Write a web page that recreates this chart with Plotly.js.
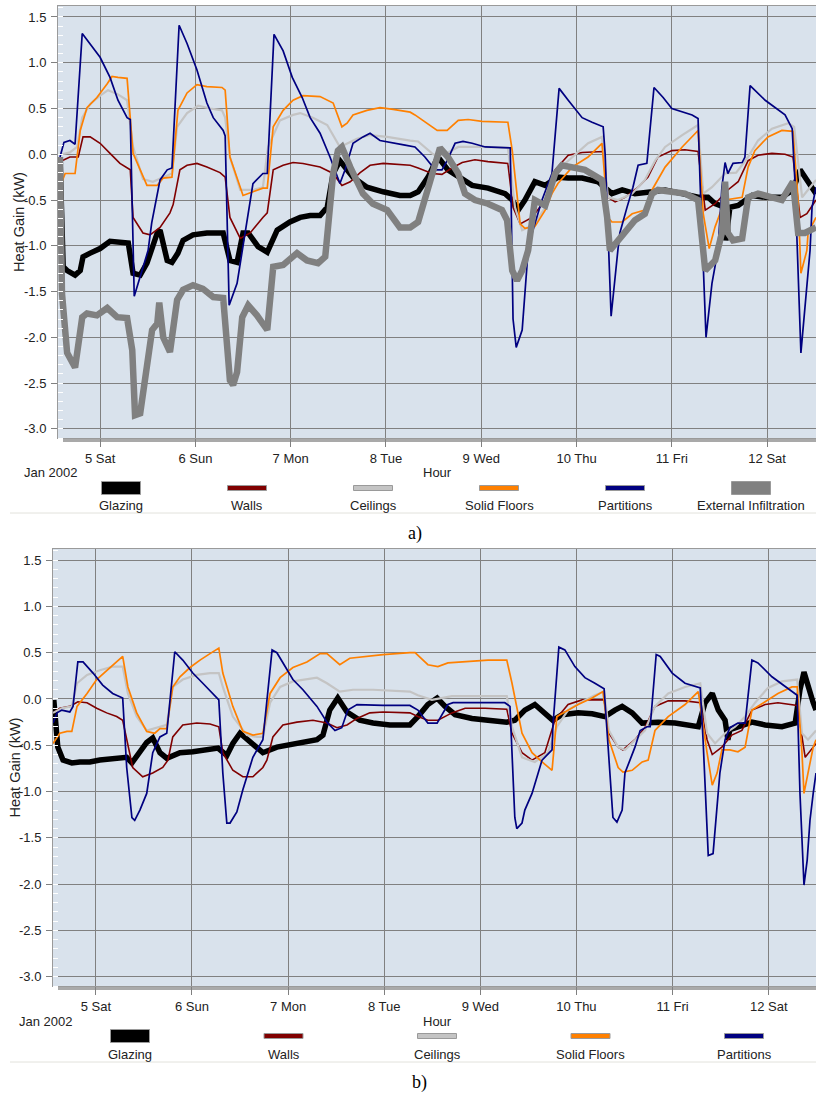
<!DOCTYPE html>
<html>
<head>
<meta charset="utf-8">
<script src="https://cdn.plot.ly/plotly-3.0.1.min.js"></script>
<style>html,body{margin:0;padding:0;background:#fff;}#chart{width:816px;height:1093px;}</style>
</head>
<body>
<div id="chart"></div>
<script>
// ---------- categories / labels ----------
const seriesNames = ['Glazing','Walls','Ceilings','Solid Floors','Partitions','External Infiltration'];
const dayTickHours = [0,24,48,72,96,120,144,168];
const dayTickLabels = ['5 Sat','6 Sun','7 Mon','8 Tue','9 Wed','10 Thu','11 Fri','12 Sat'];
const yTickValues = [-3,-2.5,-2,-1.5,-1,-0.5,0,0.5,1,1.5];
const yTickLabels = ['-3.0','-2.5','-2.0','-1.5','-1.0','-0.5','0.0','0.5','1.0','1.5'];

// ---------- panel a) : hours from 5 Jan 2002 00:00, heat gain kW ----------
const aGlazingH = [-10.1,-9.3,-8.3,-6.3,-5.0,-4.3,-2.5,0,2.5,5.0,7.1,8.3,10.1,11.8,14.4,15.1,16.9,18.1,19.6,20.9,23.4,26.9,31.0,32.7,34.5,36.0,37.3,39.8,42.1,44.6,47.8,50.4,52.9,55.4,57.2,58.7,60.4,63.7,67.2,71.3,75.5,78.1,80.1,82.6,85.1,87.6,90.2,93.7,97.7,102.0,103.8,105.3,107.0,109.5,112.1,115.3,117.9,121.4,125.4,127.2,128.9,131.5,134.7,139.0,142.3,146.6,150.6,153.1,154.9,157.4,157.6,158.6,160.7,164.2,167.5,171.7,174.5,176.3,177.5,179.3,180.3];
const aGlazingKW = [-0.03,-1.23,-1.27,-1.32,-1.27,-1.12,-1.08,-1.03,-0.95,-0.96,-0.97,-1.30,-1.32,-1.19,-0.86,-0.83,-1.16,-1.18,-1.08,-0.94,-0.88,-0.86,-0.86,-1.16,-1.18,-0.86,-0.86,-1.01,-1.07,-0.83,-0.74,-0.69,-0.67,-0.67,-0.58,-0.21,-0.07,-0.25,-0.36,-0.41,-0.45,-0.45,-0.41,-0.25,-0.03,-0.17,-0.25,-0.34,-0.37,-0.43,-0.50,-0.61,-0.50,-0.30,-0.34,-0.25,-0.26,-0.26,-0.30,-0.36,-0.43,-0.39,-0.43,-0.41,-0.39,-0.43,-0.47,-0.47,-0.54,-0.58,-0.94,-0.58,-0.56,-0.45,-0.47,-0.47,-0.39,-0.17,-0.25,-0.39,-0.43];

const aWallsH = [-9.6,-7.6,-5.5,-4.3,-2.5,0,2.5,5.0,7.6,8.3,10.8,12.6,15.1,17.6,18.4,20.1,21.9,24.4,26.9,30.2,31.5,32.7,35.3,37.8,41.0,42.1,43.6,46.1,48.6,51.1,55.4,58.7,60.9,63.0,65.5,68.0,71.3,78.1,80.1,83.6,86.1,88.6,91.2,94.4,97.7,102.7,104.0,105.8,108.8,112.1,114.6,117.9,121.4,126.7,127.9,129.7,132.2,135.5,138.0,140.5,144.0,147.3,150.6,152.4,154.9,158.1,160.7,163.2,165.7,169.2,172.5,174.5,176.3,178.0,180.3];
const aWallsKW = [-0.07,-0.03,-0.03,0.19,0.19,0.12,0.01,-0.10,-0.17,-0.69,-0.86,-0.88,-0.80,-0.64,-0.55,-0.17,-0.12,-0.10,-0.14,-0.20,-0.25,-0.69,-0.92,-0.86,-0.69,-0.64,-0.17,-0.12,-0.09,-0.10,-0.14,-0.21,-0.34,-0.30,-0.20,-0.12,-0.10,-0.12,-0.15,-0.21,-0.22,-0.15,-0.09,-0.06,-0.08,-0.10,-0.58,-0.76,-0.69,-0.50,-0.17,-0.01,0.02,0.03,-0.47,-0.52,-0.47,-0.36,-0.25,-0.03,0.04,0.05,0.03,-0.61,-0.54,-0.39,-0.30,-0.07,-0.01,0.01,0.00,-0.03,-0.69,-0.65,-0.50];

const aCeilingsH = [-9.6,-7.6,-5.8,-4.5,-2.5,0,2.0,4.3,6.8,8.3,10.8,13.3,15.9,18.1,19.4,21.9,24.7,27.7,30.7,31.5,32.7,35.3,38.5,41.0,42.3,45.3,48.6,50.4,53.6,57.2,60.4,62.2,64.7,68.0,72.3,78.1,80.1,83.6,85.1,87.6,90.2,96.2,102.7,104.5,106.3,109.5,112.1,115.3,118.9,122.9,126.4,127.9,130.4,134.0,137.2,139.8,142.3,146.6,150.6,151.9,154.1,157.4,160.2,163.2,165.7,169.2,173.3,174.8,176.8,180.3];
const aCeilingsKW = [0.00,0.02,0.08,0.40,0.55,0.64,0.70,0.66,0.59,0.08,-0.27,-0.30,-0.25,-0.21,0.30,0.45,0.53,0.50,0.48,0.40,-0.03,-0.39,-0.39,-0.36,0.08,0.37,0.43,0.45,0.40,0.32,0.08,0.12,0.17,0.21,0.19,0.15,0.14,0.01,-0.03,0.02,0.08,0.08,0.07,-0.58,-0.83,-0.76,-0.58,-0.17,-0.03,0.12,0.19,-0.47,-0.50,-0.43,-0.28,-0.07,0.08,0.21,0.32,-0.43,-0.36,-0.21,-0.20,-0.03,0.15,0.28,0.34,0.30,-0.47,-0.28];

const aFloorsH = [-9.6,-8.8,-6.3,-5.0,-3.3,-0.8,1.8,3.0,4.5,6.8,8.3,11.8,14.4,15.9,18.1,19.6,21.9,24.4,26.9,30.7,31.5,32.7,36.0,38.5,41.0,42.1,43.6,46.1,48.6,51.1,55.4,58.7,60.9,62.2,63.7,67.2,70.5,73.8,78.1,79.3,84.9,87.4,90.2,92.7,96.2,102.7,103.8,105.8,107.0,109.5,112.1,113.8,115.3,118.9,122.9,126.4,127.9,128.9,131.5,134.0,137.2,139.0,142.3,146.6,150.6,151.9,153.4,154.9,157.4,161.7,163.2,164.9,168.2,171.7,174.5,175.8,176.5,178.0,178.3,180.3];
const aFloorsKW = [-0.30,-0.21,-0.21,0.26,0.51,0.62,0.77,0.85,0.84,0.83,0.01,-0.34,-0.34,-0.26,-0.25,0.48,0.67,0.76,0.74,0.73,0.70,-0.03,-0.45,-0.41,-0.37,-0.37,0.30,0.48,0.59,0.64,0.63,0.56,0.30,0.34,0.43,0.48,0.51,0.49,0.46,0.43,0.26,0.26,0.37,0.38,0.36,0.35,0.04,-0.76,-0.81,-0.79,-0.61,-0.43,-0.32,-0.14,-0.03,0.12,-0.69,-0.74,-0.74,-0.65,-0.61,-0.39,-0.14,0.08,0.26,-0.65,-1.03,-0.79,-0.50,-0.47,-0.14,0.04,0.19,0.26,0.25,-0.50,-1.30,-1.05,-0.86,-0.69];

const aPartitionsH = [-10.1,-9.1,-7.6,-6.3,-4.5,0,2.5,4.5,6.8,7.6,8.6,12.1,13.0,15.1,16.9,18.1,19.9,21.9,24.4,26.9,28.5,31.0,31.5,32.5,34.5,36.5,38.5,41.0,42.1,43.8,46.1,48.4,50.9,52.9,55.4,57.9,60.4,61.7,63.7,66.2,68.0,70.5,73.8,76.8,79.3,81.8,84.4,86.1,87.4,89.4,91.4,93.7,97.0,103.3,104.0,104.8,106.3,107.8,108.8,111.3,113.8,115.6,117.9,121.4,123.9,126.7,127.2,128.7,130.4,130.9,132.7,134.2,135.5,137.7,139.5,141.8,144.0,146.6,149.1,150.6,151.1,152.6,154.1,155.6,156.6,157.4,158.1,159.4,161.7,162.4,163.7,167.5,170.0,172.5,174.3,175.0,176.5,177.5,178.8,179.3,180.3];
const aPartitionsKW = [-0.03,0.13,0.15,0.11,1.32,1.06,0.84,0.59,0.40,0.38,-1.55,-1.05,-0.75,-0.28,-0.17,-0.15,1.41,1.21,0.92,0.56,0.40,0.26,0.20,-1.65,-1.41,-0.86,-0.32,-0.21,-0.21,1.31,1.13,0.84,0.62,0.40,0.23,-0.03,-0.32,-0.17,0.12,0.19,0.23,0.15,0.12,0.10,0.08,-0.03,-0.17,-0.17,-0.07,0.12,0.14,0.12,0.08,0.07,-1.80,-2.11,-1.92,-1.05,-0.86,-0.50,-0.21,0.72,0.59,0.40,0.35,0.30,0.00,-1.77,-1.05,-0.86,-0.58,-0.36,-0.12,-0.10,0.73,0.62,0.50,0.46,0.43,0.39,-0.30,-2.00,-1.41,-1.05,-0.36,-0.09,-0.21,-0.10,-0.09,-0.03,0.75,0.59,0.51,0.43,0.28,-0.30,-2.17,-1.70,-1.05,-0.58,-0.36];

const aInfiltH = [-10.1,-9.6,-8.3,-6.3,-4.5,-3.3,-0.8,1.8,4.3,6.8,8.1,8.8,10.1,11.8,13.1,14.4,14.9,15.9,17.6,19.4,20.9,23.4,25.9,28.5,31.0,32.7,33.5,34.5,35.8,37.3,39.5,42.1,43.6,46.1,49.6,52.1,54.9,56.7,57.2,58.7,59.9,60.9,63.0,66.2,68.7,72.3,75.5,78.1,80.1,82.6,85.6,87.6,90.2,91.9,94.4,97.7,101.2,102.5,103.8,105.0,106.3,107.8,109.5,112.1,114.6,116.3,118.9,122.1,126.4,127.7,128.4,130.4,134.7,137.2,139.0,140.5,144.0,147.3,150.6,151.6,152.4,154.9,156.6,157.4,158.1,159.4,161.7,163.2,165.7,169.2,171.7,174.5,175.8,177.5,180.3];
const aInfiltKW = [-0.03,-1.52,-2.17,-2.33,-1.78,-1.74,-1.76,-1.68,-1.78,-1.79,-2.14,-2.85,-2.83,-2.28,-1.92,-1.85,-1.62,-2.00,-2.16,-1.59,-1.48,-1.43,-1.47,-1.56,-1.57,-2.47,-2.52,-2.38,-1.78,-1.65,-1.76,-1.92,-1.23,-1.21,-1.08,-1.16,-1.19,-1.12,-0.86,-0.21,0.04,0.08,-0.14,-0.43,-0.54,-0.61,-0.80,-0.80,-0.74,-0.36,0.07,-0.03,-0.21,-0.43,-0.50,-0.54,-0.61,-0.72,-1.27,-1.38,-1.27,-1.05,-0.50,-0.56,-0.21,-0.12,-0.14,-0.17,-0.28,-0.69,-1.05,-0.94,-0.72,-0.65,-0.43,-0.39,-0.41,-0.43,-0.50,-1.05,-1.27,-1.16,-0.86,-0.30,-0.86,-0.94,-0.92,-0.47,-0.43,-0.47,-0.50,-0.30,-0.86,-0.86,-0.80];

// ---------- panel b) ----------
const bGlazingH = [-10.5,-10.0,-9.5,-8.2,-6.0,-4.0,-1.5,1.0,4.2,7.7,9.0,11.0,12.7,14.2,16.0,17.7,21.0,24.2,27.7,30.5,32.7,34.2,36.0,38.5,41.7,45.2,48.5,51.7,55.2,56.7,58.4,60.4,62.7,65.9,69.2,73.4,78.4,80.4,82.9,85.2,87.2,89.7,93.9,97.9,102.6,104.6,107.1,109.6,112.1,114.1,116.4,120.4,123.9,127.1,129.6,131.4,133.9,136.4,140.4,144.6,150.4,152.1,153.9,155.4,157.1,157.8,158.3,160.3,163.8,167.1,171.3,174.6,175.8,176.8,177.8,179.1,179.8];
const bGlazingKW = [-0.01,-0.30,-0.52,-0.66,-0.69,-0.68,-0.68,-0.66,-0.64,-0.63,-0.69,-0.58,-0.47,-0.42,-0.58,-0.64,-0.58,-0.57,-0.55,-0.53,-0.61,-0.48,-0.37,-0.47,-0.58,-0.52,-0.49,-0.47,-0.44,-0.39,-0.12,0.01,-0.14,-0.23,-0.26,-0.28,-0.28,-0.19,-0.06,0.01,-0.08,-0.17,-0.21,-0.23,-0.25,-0.23,-0.12,-0.06,-0.15,-0.23,-0.17,-0.15,-0.16,-0.19,-0.12,-0.08,-0.15,-0.26,-0.25,-0.26,-0.30,-0.04,0.06,-0.12,-0.23,-0.44,-0.33,-0.30,-0.25,-0.28,-0.30,-0.26,0.10,0.29,0.13,-0.04,-0.12];

const bWallsH = [-10.7,-9.0,-6.5,-4.5,-2.2,0.2,2.7,5.2,6.7,8.0,9.2,11.7,14.2,16.7,18.0,19.2,21.7,25.2,28.5,30.7,31.7,34.2,36.7,39.2,41.7,42.7,44.2,46.7,50.2,54.2,57.7,60.2,62.7,65.2,68.4,71.7,78.4,80.4,82.9,85.4,88.9,92.2,97.2,102.6,103.9,106.4,108.9,112.1,114.6,117.9,121.4,126.9,128.1,130.4,131.6,134.6,137.1,139.6,142.9,147.1,150.9,152.6,153.9,156.3,158.8,161.3,163.8,167.1,170.3,175.1,176.3,177.1,179.1,179.8];
const bWallsKW = [-0.15,-0.10,-0.08,-0.03,-0.04,-0.10,-0.15,-0.19,-0.23,-0.48,-0.74,-0.84,-0.80,-0.74,-0.66,-0.41,-0.28,-0.26,-0.27,-0.30,-0.58,-0.77,-0.84,-0.84,-0.74,-0.66,-0.41,-0.28,-0.25,-0.23,-0.26,-0.31,-0.28,-0.21,-0.15,-0.14,-0.15,-0.19,-0.23,-0.23,-0.15,-0.10,-0.10,-0.11,-0.37,-0.58,-0.66,-0.58,-0.23,-0.06,-0.01,-0.01,-0.37,-0.52,-0.55,-0.44,-0.31,-0.08,-0.02,-0.02,-0.04,-0.44,-0.60,-0.52,-0.39,-0.34,-0.12,-0.06,-0.04,-0.07,-0.44,-0.63,-0.52,-0.48];

const bCeilingsH = [-10.7,-8.5,-6.0,-4.7,-2.2,1.0,4.2,6.7,8.0,10.2,12.7,15.2,17.7,19.2,21.7,25.2,28.5,30.7,31.7,34.2,37.7,40.2,41.7,43.5,46.0,49.2,52.7,55.2,57.7,60.9,64.2,69.2,78.4,80.4,83.9,86.4,88.9,102.6,103.9,106.4,109.6,112.9,115.1,117.9,121.4,124.6,126.9,128.1,130.4,132.1,134.6,137.1,139.6,142.9,147.1,150.9,152.6,154.6,157.1,159.6,162.1,164.6,167.8,171.3,175.1,176.3,177.8,179.8];
const bCeilingsKW = [-0.15,-0.10,-0.08,0.17,0.26,0.31,0.35,0.35,0.06,-0.19,-0.34,-0.31,-0.28,0.13,0.21,0.26,0.28,0.28,0.13,-0.19,-0.39,-0.41,-0.41,-0.04,0.13,0.19,0.21,0.23,0.17,0.08,0.10,0.10,0.08,0.04,-0.01,0.01,0.03,0.03,-0.30,-0.63,-0.68,-0.58,-0.30,-0.12,-0.03,0.04,0.08,-0.34,-0.52,-0.55,-0.44,-0.34,-0.08,0.06,0.13,0.17,-0.37,-0.48,-0.37,-0.30,-0.19,-0.04,0.12,0.19,0.21,-0.37,-0.44,-0.34];

const bFloorsH = [-10.7,-9.0,-7.2,-6.0,-4.7,-2.2,0.2,2.7,5.2,6.7,8.0,10.2,12.7,14.7,16.0,17.7,19.2,21.0,23.5,26.0,28.5,30.7,31.7,34.2,36.7,39.2,41.7,43.5,46.0,49.2,52.7,56.0,57.7,60.2,60.9,63.4,67.7,71.7,78.4,79.7,82.9,85.4,87.9,92.2,97.9,102.6,103.9,106.4,108.9,111.4,113.9,115.1,117.1,120.4,123.9,126.6,128.1,130.4,131.6,133.9,136.4,137.9,139.6,142.9,147.1,150.4,152.6,153.9,155.1,156.3,158.3,160.3,162.1,163.8,167.1,170.3,173.8,175.1,176.3,176.8,177.8,179.1,179.8];
const bFloorsKW = [-0.48,-0.37,-0.35,-0.35,-0.08,0.06,0.21,0.31,0.40,0.46,0.13,-0.15,-0.35,-0.37,-0.32,-0.32,0.13,0.24,0.34,0.42,0.49,0.55,0.28,-0.08,-0.35,-0.39,-0.37,0.06,0.23,0.34,0.40,0.49,0.49,0.39,0.37,0.44,0.46,0.48,0.50,0.50,0.37,0.35,0.39,0.40,0.42,0.42,0.17,-0.37,-0.58,-0.68,-0.77,-0.19,-0.14,-0.06,0.01,0.08,-0.44,-0.74,-0.79,-0.77,-0.68,-0.66,-0.34,-0.19,-0.06,0.08,-0.58,-0.93,-0.80,-0.55,-0.55,-0.57,-0.52,-0.12,-0.03,0.06,0.13,0.13,-0.58,-1.02,-0.80,-0.52,-0.44];

const bPartitionsH = [-10.7,-9.7,-8.5,-6.5,-5.7,-4.5,-3.2,-0.7,1.7,4.2,6.7,7.7,9.0,9.7,11.0,12.7,14.2,16.0,17.7,19.7,21.7,24.2,26.7,29.2,30.7,31.7,32.7,33.5,35.2,36.7,39.2,41.7,44.0,45.2,47.7,49.2,51.7,55.2,57.7,59.7,61.4,62.9,65.2,71.7,78.4,80.4,82.9,85.2,87.9,89.2,102.1,103.4,104.6,105.1,106.4,107.1,108.9,111.4,113.9,114.1,115.6,117.1,119.6,122.1,124.6,126.9,127.9,129.1,130.1,131.4,132.1,134.6,135.9,137.6,138.4,139.9,140.9,143.9,147.1,150.9,151.6,152.6,152.9,154.1,155.1,155.8,157.1,158.3,160.3,162.1,163.8,165.3,168.8,172.1,175.1,175.8,176.3,176.8,177.6,178.3,179.1,179.8];
const bPartitionsKW = [-0.26,-0.15,-0.12,-0.14,-0.08,0.40,0.40,0.28,0.15,0.06,0.01,-0.74,-1.28,-1.31,-1.20,-1.02,-0.58,-0.41,-0.37,0.51,0.42,0.28,0.17,0.06,-0.01,-0.80,-1.34,-1.34,-1.22,-0.98,-0.63,-0.44,0.53,0.50,0.31,0.21,0.10,-0.08,-0.25,-0.34,-0.31,-0.12,-0.06,-0.07,-0.07,-0.12,-0.26,-0.26,-0.06,-0.04,-0.04,-0.08,-1.28,-1.40,-1.34,-1.20,-1.02,-0.66,-0.55,-0.30,0.56,0.53,0.35,0.23,0.17,0.11,-0.52,-1.28,-1.33,-1.20,-0.80,-0.52,-0.34,-0.30,-0.30,0.48,0.46,0.28,0.17,0.12,-0.44,-1.42,-1.69,-1.67,-1.20,-0.80,-0.44,-0.31,-0.26,-0.26,0.42,0.39,0.24,0.13,0.04,-1.02,-1.56,-2.01,-1.74,-1.31,-1.02,-0.80];

// ---------- styles ----------
const seriesColors = ['#000000','#800000','#c4c4c4','#ff8000','#000080','#808080'];
const seriesWidths = [5.5,1.6,2.2,1.7,1.7,6.5];
const swatchHeights = [13,5,5,5,5,13];
const FONT = 'Liberation Sans, Arial, sans-serif';
const FS = 13;
const W = 816, H = 1093;
const px = x => x / W;
const py = y => 1 - y / H;

function line(h, v, i, xa, ya) {
  return {x: h, y: v, type: 'scatter', mode: 'lines',
    line: {color: seriesColors[i], width: seriesWidths[i], shape: 'linear'},
    xaxis: xa, yaxis: ya, showlegend: false, hoverinfo: 'skip', name: seriesNames[i]};
}

const traces = [
  line(aGlazingH, aGlazingKW, 0, 'x', 'y'),
  line(aWallsH, aWallsKW, 1, 'x', 'y'),
  line(aCeilingsH, aCeilingsKW, 2, 'x', 'y'),
  line(aFloorsH, aFloorsKW, 3, 'x', 'y'),
  line(aPartitionsH, aPartitionsKW, 4, 'x', 'y'),
  line(aInfiltH, aInfiltKW, 5, 'x', 'y'),
  line(bGlazingH, bGlazingKW, 0, 'x2', 'y2'),
  line(bWallsH, bWallsKW, 1, 'x2', 'y2'),
  line(bCeilingsH, bCeilingsKW, 2, 'x2', 'y2'),
  line(bFloorsH, bFloorsKW, 3, 'x2', 'y2'),
  line(bPartitionsH, bPartitionsKW, 4, 'x2', 'y2')
];

// panel geometry (pixels)
const panels = [
  {l: 58, t: 6, b: 438, xr: [-10.6, 180.3], legendX0: 121, legendDX: 126, legendY: 488, labelY: 505,
   n: 6, janY: 472, janX: 22, sepY: 513, tagY: 533, tagX: 415, tag: 'a)', ytitleX: 19},
  {l: 53, t: 549, b: 986, xr: [-10.7, 179.8], legendX0: 130, legendDX: 153.5, legendY: 1036, labelY: 1054,
   n: 5, janY: 1021, janX: 17, sepY: 1062, tagY: 1082, tagX: 420, tag: 'b)', ytitleX: 14}
];

function xAxis(p, anchor) {
  return {domain: [px(p.l), 1], range: p.xr, anchor: anchor, tickmode: 'array',
    tickvals: dayTickHours, ticktext: dayTickLabels, ticks: 'outside', ticklen: 8, tickcolor: '#808080',
    showgrid: true, gridcolor: '#808080', gridwidth: 1, zeroline: false,
    showline: true, linecolor: '#9a9a9a', linewidth: 1, mirror: true,
    tickfont: {family: FONT, size: FS, color: '#222'}, ticklabelstandoff: 0, fixedrange: true};
}
function yAxis(p, anchor) {
  return {domain: [py(p.b), py(p.t)], range: [-3.1, 1.62], anchor: anchor, tickmode: 'array',
    tickvals: yTickValues, ticktext: yTickLabels, ticks: 'outside', ticklen: 6, tickcolor: '#808080',
    showgrid: true, gridcolor: '#808080', gridwidth: 1, zeroline: false,
    showline: true, linecolor: '#9a9a9a', linewidth: 1, mirror: false,
    minor: {tickmode: 'linear', tick0: 0, dtick: 0.1, ticks: 'inside', ticklen: 5, tickcolor: '#ffffff', tickwidth: 1, showgrid: false},
    tickfont: {family: FONT, size: FS, color: '#222'}, ticklabelstandoff: 2, fixedrange: true};
}

const shapes = [];
const annotations = [];
panels.forEach((p, k) => {
  // drop shadow + plot background
  shapes.push({type: 'rect', xref: 'paper', yref: 'paper', layer: 'below',
    x0: px(p.l + 5), x1: px(W + 10), y0: py(p.b + 4), y1: py(p.t + 5),
    fillcolor: '#a9a9a9', line: {width: 0}});
  shapes.push({type: 'rect', xref: 'paper', yref: 'paper', layer: 'below',
    x0: px(p.l), x1: px(W + 10), y0: py(p.b), y1: py(p.t),
    fillcolor: '#d9e2ec', line: {width: 0}});
  // separator line under legend
  shapes.push({type: 'line', xref: 'paper', yref: 'paper', x0: px(10), x1: 1, y0: py(p.sepY), y1: py(p.sepY),
    line: {color: '#e2e2dc', width: 1}});
  // legend swatches + labels
  for (let i = 0; i < p.n; i++) {
    const cx = p.legendX0 + i * p.legendDX;
    const hh = swatchHeights[i];
    shapes.push({type: 'rect', xref: 'paper', yref: 'paper',
      x0: px(cx - 19.5), x1: px(cx + 19.5), y0: py(p.legendY + hh / 2), y1: py(p.legendY - hh / 2),
      fillcolor: seriesColors[i], line: {color: '#9a9a9a', width: 1}});
    annotations.push({xref: 'paper', yref: 'paper', x: px(cx), y: py(p.labelY), text: seriesNames[i],
      showarrow: false, xanchor: 'center', yanchor: 'middle', font: {family: FONT, size: FS, color: '#222'}});
  }
  annotations.push({xref: 'paper', yref: 'paper', x: px(p.janX), y: py(p.janY), text: 'Jan 2002',
    showarrow: false, xanchor: 'left', yanchor: 'middle', font: {family: FONT, size: FS, color: '#222'}});
  annotations.push({xref: 'paper', yref: 'paper', x: px(437), y: py(p.janY), text: 'Hour',
    showarrow: false, xanchor: 'center', yanchor: 'middle', font: {family: FONT, size: FS, color: '#222'}});
  annotations.push({xref: 'paper', yref: 'paper', x: px(p.ytitleX), y: py((p.t + p.b) / 2), text: 'Heat Gain (kW)',
    textangle: -90, showarrow: false, xanchor: 'center', yanchor: 'middle', font: {family: FONT, size: 14.5, color: '#222'}});
  annotations.push({xref: 'paper', yref: 'paper', x: px(p.tagX), y: py(p.tagY), text: p.tag,
    showarrow: false, xanchor: 'center', yanchor: 'middle', font: {family: 'Liberation Serif, Times New Roman, serif', size: 18, color: '#000'}});
});

const layout = {
  width: W, height: H, autosize: false,
  margin: {l: 0, r: 0, t: 0, b: 0, pad: 0},
  paper_bgcolor: '#ffffff', plot_bgcolor: 'rgba(0,0,0,0)',
  showlegend: false,
  xaxis: xAxis(panels[0], 'y'),
  yaxis: yAxis(panels[0], 'x'),
  xaxis2: xAxis(panels[1], 'y2'),
  yaxis2: yAxis(panels[1], 'x2'),
  shapes: shapes,
  annotations: annotations
};

Plotly.newPlot('chart', traces, layout, {staticPlot: true, displayModeBar: false});
</script>
</body>
</html>
